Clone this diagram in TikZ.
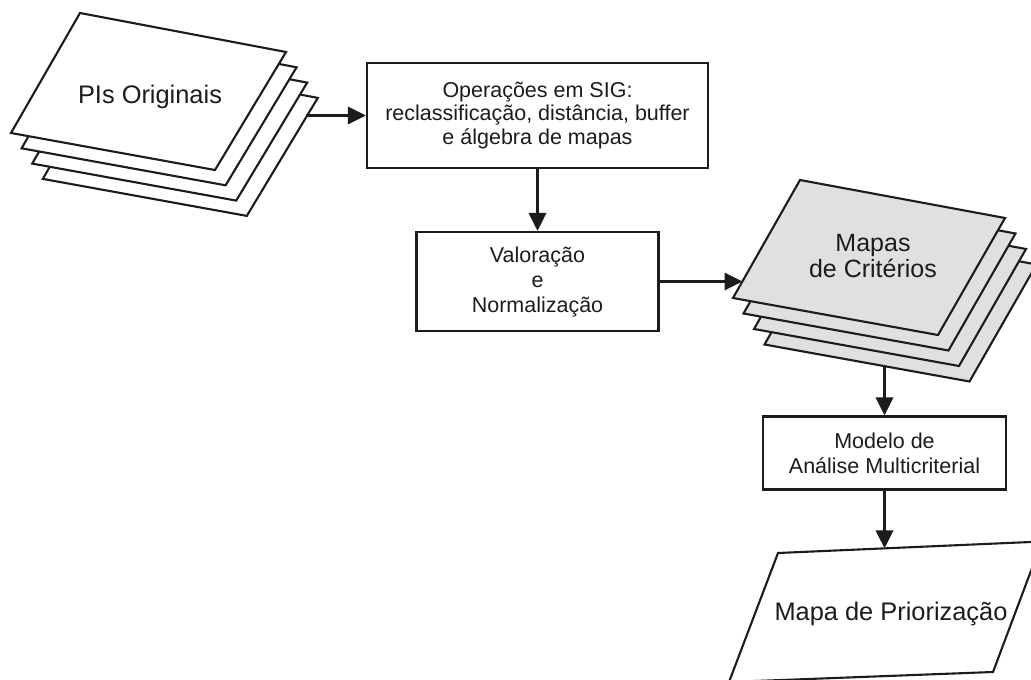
\documentclass[tikz,border=0pt]{standalone}
\usepackage{fontspec}
\setmainfont{Liberation Sans}
\usetikzlibrary{arrows.meta}
\definecolor{ink}{HTML}{1C1C1C}
\definecolor{sheetgray}{HTML}{E0E0E0}
\tikzset{
  sheet/.style={draw=ink, line width=2.1pt, line join=miter},
  procbox/.style={draw=ink, line width=2.1pt, fill=white, inner sep=0pt, align=center, text=ink},
  flow/.style={draw=ink, line width=3.4pt, -{Triangle[length=18pt,width=17pt]}},
  label/.style={text=ink, inner sep=0pt, align=center}
}
\begin{document}
\begin{tikzpicture}[x=1pt,y=-1pt]
\clip (0,0) rectangle (1031,680);
\fill[white] (0,0) rectangle (1031,680);
% left stack of sheets
\foreach \k in {3,2,1,0}{
  \draw[sheet, fill=white, shift={(10.6*\k,15.3*\k)}]
    (11,133) -- (80,13) -- (286,52) -- (215,170) -- cycle;
}
\node[label, anchor=base, font=\fontsize{25.4}{30}\selectfont] (pis) at (150,103.5) {PIs Originais};
% right stack of sheets
\foreach \k in {3,2,1,0}{
  \draw[sheet, fill=sheetgray, shift={(10.5*\k,15.5*\k)}]
    (733,298) -- (800,180) -- (1005,218) -- (938,335) -- cycle;
}
\node[label, font=\fontsize{25}{26}\selectfont] (crit) at (873,256) {Mapas\\de Critérios};
% boxes
\node[procbox, minimum width=341pt, minimum height=105pt, font=\fontsize{21.5}{23.5}\selectfont] (ops) at (537.5,115.5)
  {Operações em SIG:\\reclassificação, distância, buffer\\e álgebra de mapas};
\node[procbox, minimum width=242pt, minimum height=99pt, font=\fontsize{21.5}{25}\selectfont] (val) at (537.5,281.5)
  {Valoração\\e\\Normalização};
\node[procbox, minimum width=243pt, minimum height=73pt, font=\fontsize{21.5}{25}\selectfont] (mca) at (884.5,453)
  {Modelo de\\Análise Multicriterial};
% final map
\draw[sheet, fill=white] (778,553) -- (1042,541.5) -- (993,672) -- (729,682) -- cycle;
\node[label, anchor=base, font=\fontsize{25.4}{30}\selectfont] (prio) at (891,620.5) {Mapa de Priorização};
% connector end points on slanted edges
\coordinate (pisout) at (306,115.5);
\coordinate (critin) at (742.5,281.5);
\coordinate (critout) at (884.5,366);
\coordinate (prioin) at (884.5,548.4);
% connectors
\draw[flow] (pisout) -- (ops);
\draw[flow] (ops) -- (val);
\draw[flow] (val) -- (critin);
\draw[flow] (critout) -- (mca);
\draw[flow] (mca) -- (prioin);
\end{tikzpicture}
\end{document}
